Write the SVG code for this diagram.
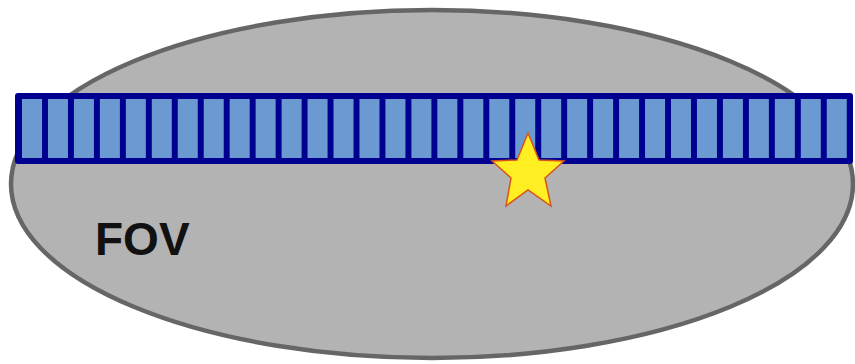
<svg xmlns="http://www.w3.org/2000/svg" width="855" height="364" viewBox="0 0 855 364">
<style>
.fov{fill:#b3b3b3;stroke:#666;stroke-width:4.5}
.bar{fill:#000090}
.cell{fill:#6b9ad3}
.star{fill:#ffee22;stroke:#d8541a;stroke-width:1.5;stroke-linejoin:miter}
.lbl{font-family:"Liberation Sans",Arial,sans-serif;font-weight:bold;font-size:46px;fill:#111}
</style>
<rect width="855" height="364" fill="#fff"/>
<g id="fov">
<ellipse class="fov" cx="432" cy="184" rx="421" ry="174"/>
<text class="lbl" x="95" y="255">FOV</text>
</g>
<g id="array">
<rect class="bar" x="15" y="93" width="838" height="71" rx="3"/>
<g id="cells">
<rect class="cell" x="22.0" y="99" width="20" height="59"/>
<rect class="cell" x="47.96" y="99" width="20" height="59"/>
<rect class="cell" x="73.92" y="99" width="20" height="59"/>
<rect class="cell" x="99.88" y="99" width="20" height="59"/>
<rect class="cell" x="125.84" y="99" width="20" height="59"/>
<rect class="cell" x="151.8" y="99" width="20" height="59"/>
<rect class="cell" x="177.76" y="99" width="20" height="59"/>
<rect class="cell" x="203.72" y="99" width="20" height="59"/>
<rect class="cell" x="229.68" y="99" width="20" height="59"/>
<rect class="cell" x="255.64" y="99" width="20" height="59"/>
<rect class="cell" x="281.6" y="99" width="20" height="59"/>
<rect class="cell" x="307.56" y="99" width="20" height="59"/>
<rect class="cell" x="333.52" y="99" width="20" height="59"/>
<rect class="cell" x="359.48" y="99" width="20" height="59"/>
<rect class="cell" x="385.44" y="99" width="20" height="59"/>
<rect class="cell" x="411.4" y="99" width="20" height="59"/>
<rect class="cell" x="437.36" y="99" width="20" height="59"/>
<rect class="cell" x="463.32" y="99" width="20" height="59"/>
<rect class="cell" x="489.28" y="99" width="20" height="59"/>
<rect class="cell" x="515.24" y="99" width="20" height="59"/>
<rect class="cell" x="541.2" y="99" width="20" height="59"/>
<rect class="cell" x="567.16" y="99" width="20" height="59"/>
<rect class="cell" x="593.12" y="99" width="20" height="59"/>
<rect class="cell" x="619.08" y="99" width="20" height="59"/>
<rect class="cell" x="645.04" y="99" width="20" height="59"/>
<rect class="cell" x="671.0" y="99" width="20" height="59"/>
<rect class="cell" x="696.96" y="99" width="20" height="59"/>
<rect class="cell" x="722.92" y="99" width="20" height="59"/>
<rect class="cell" x="748.88" y="99" width="20" height="59"/>
<rect class="cell" x="774.84" y="99" width="20" height="59"/>
<rect class="cell" x="800.8" y="99" width="20" height="59"/>
<rect class="cell" x="826.76" y="99" width="20" height="59"/>
</g>
</g>
<g id="star">
<polygon class="star" points="528,133 539,160 564,161 545,178 551,206 528,190 506,206 511,178 492,161 517,160"/>
</g>
</svg>
